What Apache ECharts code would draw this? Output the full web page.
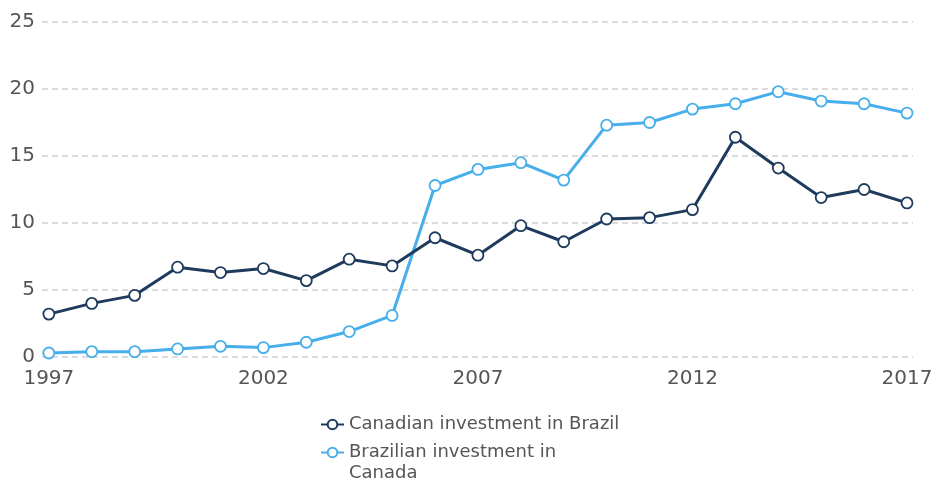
<!DOCTYPE html>
<html>
    <head>
        <title>Canada - Brazil investment</title>
        <meta charset="UTF-8">
        <script src="https://cdn.jsdelivr.net/npm/echarts@6/dist/echarts.min.js"></script>
    </head>
    <body style="margin: 0; background-color: #fff;">
        <div id="main" style="width: 937px;height:480px;"></div>
        <script>
            var years = [1997, 1998, 1999, 2000, 2001, 2002, 2003, 2004, 2005, 2006, 2007,
                2008, 2009, 2010, 2011, 2012, 2013, 2014, 2015, 2016, 2017];
            var canadianInBrazil = [3.2, 4.0, 4.6, 6.7, 6.3, 6.6, 5.7, 7.3, 6.8, 8.9, 7.6,
                9.8, 8.6, 10.3, 10.4, 11.0, 16.4, 14.1, 11.9, 12.5, 11.5];
            var brazilianInCanada = [0.3, 0.4, 0.4, 0.6, 0.8, 0.7, 1.1, 1.9, 3.1, 12.8, 14.0,
                14.5, 13.2, 17.3, 17.5, 18.5, 18.9, 19.8, 19.1, 18.9, 18.2];
            var xTicks = [1997, 2002, 2007, 2012, 2017];

            var gb = {
                color: {
                    dark: '#1e3a5c',
                    light: '#46aeea',
                    text: '#555555',
                    split: '#d0d0d0'
                },
                font: 'DejaVu Sans'
            };

            var names = ['Canadian investment in Brazil', 'Brazilian investment in Canada'];

            function pairs(vals) {
                var out = [];
                for (var i = 0; i < years.length; i++) {
                    out.push([years[i], vals[i]]);
                }
                return out;
            }

            var myChart = echarts.init(document.getElementById('main'));

            var legendBase = {
                orient: 'vertical',
                left: 320,
                padding: 0,
                itemWidth: 23,
                itemHeight: 12,
                selectedMode: false,
                textStyle: {
                    color: gb.color.text,
                    fontFamily: gb.font,
                    fontSize: 18,
                    lineHeight: 21
                }
            };

            var option = {
                animation: false,
                grid: {
                    left: 42,
                    right: 24,
                    top: 22,
                    bottom: 123
                },
                legend: [
                    echarts.util.merge({
                        top: 414,
                        data: [names[0]]
                    }, legendBase),
                    echarts.util.merge({
                        top: 421,
                        data: [names[1]],
                        // blank first line so the icon sits beside the first text line
                        formatter: function (name) {
                            return ' \nBrazilian investment in\nCanada';
                        }
                    }, legendBase)
                ],
                xAxis: {
                    type: 'value',
                    min: 1996.84,
                    max: 2017.14,
                    axisLine: {show: false},
                    axisTick: {show: false},
                    splitLine: {show: false},
                    axisLabel: {
                        customValues: xTicks,
                        formatter: function (v) {
                            return String(v);
                        },
                        color: gb.color.text,
                        fontFamily: gb.font,
                        fontSize: 20,
                        margin: 12,
                        showMinLabel: true,
                        showMaxLabel: true
                    }
                },
                yAxis: {
                    type: 'value',
                    min: 0,
                    max: 25,
                    interval: 5,
                    axisLine: {show: false},
                    axisTick: {show: false},
                    axisLabel: {
                        color: gb.color.text,
                        fontFamily: gb.font,
                        fontSize: 20,
                        margin: 7
                    },
                    splitLine: {
                        lineStyle: {
                            type: [6, 4],
                            color: gb.color.split,
                            width: 1.5
                        }
                    }
                },
                series: [
                    {
                        name: names[0],
                        type: 'line',
                        data: pairs(canadianInBrazil),
                        symbol: 'circle',
                        symbolSize: 11,
                        z: 3,
                        lineStyle: {color: gb.color.dark, width: 3},
                        itemStyle: {color: '#fff', borderColor: gb.color.dark, borderWidth: 1.8}
                    },
                    {
                        name: names[1],
                        type: 'line',
                        data: pairs(brazilianInCanada),
                        symbol: 'circle',
                        symbolSize: 11,
                        z: 2,
                        lineStyle: {color: gb.color.light, width: 3},
                        itemStyle: {color: '#fff', borderColor: gb.color.light, borderWidth: 1.8}
                    }
                ]
            };
            myChart.setOption(option);
        </script>
    </body>
</html>
